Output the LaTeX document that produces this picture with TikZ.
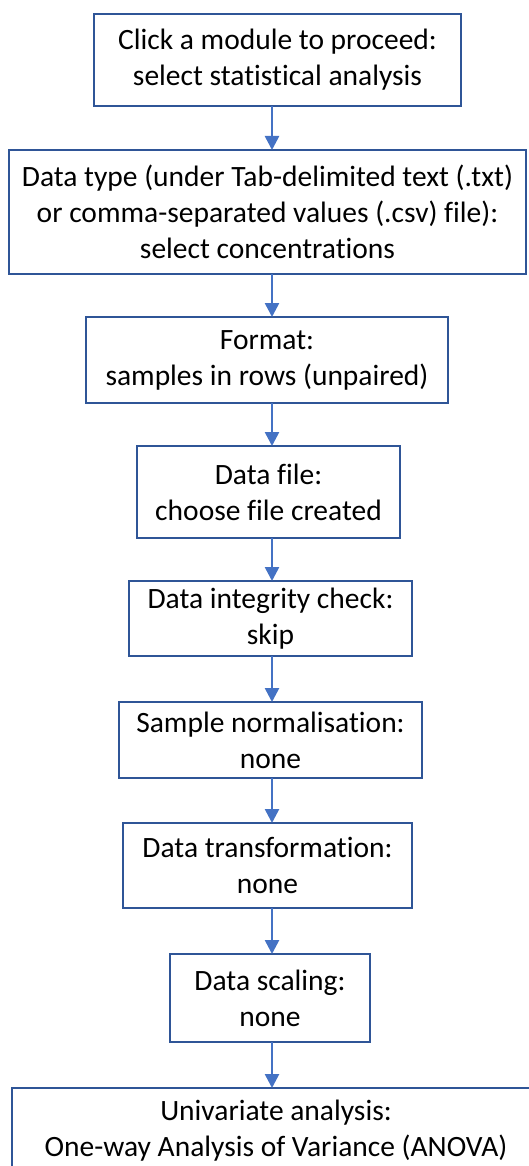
\documentclass[tikz,border=0pt]{standalone}
\usepackage{fontspec}
\setmainfont{Carlito}[Ligatures=NoCommon]
\usetikzlibrary{arrows.meta}

\definecolor{boxline}{HTML}{2F5597}
\definecolor{flowline}{HTML}{4472C4}

\begin{document}
\begin{tikzpicture}[
  x=1pt, y=-1pt,
  every node/.style={
    draw=boxline, line width=1.6pt, rectangle,
    align=center, inner sep=0pt, outer sep=0pt,
    font=\fontsize{29.5}{36}\selectfont,
  },
  flow/.style={
    draw=flowline, line width=2.6pt,
    -{Triangle[width=14pt,length=14pt]},
  },
]
  \useasboundingbox (0,0) rectangle (528,1166);

  \coordinate (ax) at (272,0);

  \node [minimum width=367pt, minimum height=92pt] (module) at (277.5,60)
    {Click a module to proceed:\\select statistical analysis};
  \node [minimum width=517pt, minimum height=124pt] (datatype) at (267.5,212)
    {Data type (under Tab-delimited text (.txt)\\or comma-separated values (.csv) file):\\select concentrations};
  \node [minimum width=362pt, minimum height=86pt] (format) at (267,360)
    {Format:\\samples in rows (unpaired)};
  \node [minimum width=263pt, minimum height=92pt] (datafile) at (268.5,492)
    {Data file:\\choose file created};
  \node [minimum width=283pt, minimum height=75pt] (integrity) at (270.5,618.5)
    {Data integrity check:\\skip};
  \node [minimum width=303pt, minimum height=76pt] (normal) at (270.5,740)
    {Sample normalisation:\\none};
  \node [minimum width=289pt, minimum height=85pt] (transform) at (267.5,865.5)
    {Data transformation:\\none};
  \node [minimum width=200pt, minimum height=88pt] (scaling) at (270,998)
    {Data scaling:\\none};
  \node [minimum width=528pt, minimum height=86pt] (anova) at (276,1131)
    {Univariate analysis:\\One-way Analysis of Variance (ANOVA)};

  \draw [flow] (module.south -| ax) -- (datatype.north -| ax);
  \draw [flow] (datatype.south -| ax) -- (format.north -| ax);
  \draw [flow] (format.south -| ax) -- (datafile.north -| ax);
  \draw [flow] (datafile.south -| ax) -- (integrity.north -| ax);
  \draw [flow] (integrity.south -| ax) -- (normal.north -| ax);
  \draw [flow] (normal.south -| ax) -- (transform.north -| ax);
  \draw [flow] (transform.south -| ax) -- (scaling.north -| ax);
  \draw [flow] (scaling.south -| ax) -- (anova.north -| ax);

\end{tikzpicture}
\end{document}
